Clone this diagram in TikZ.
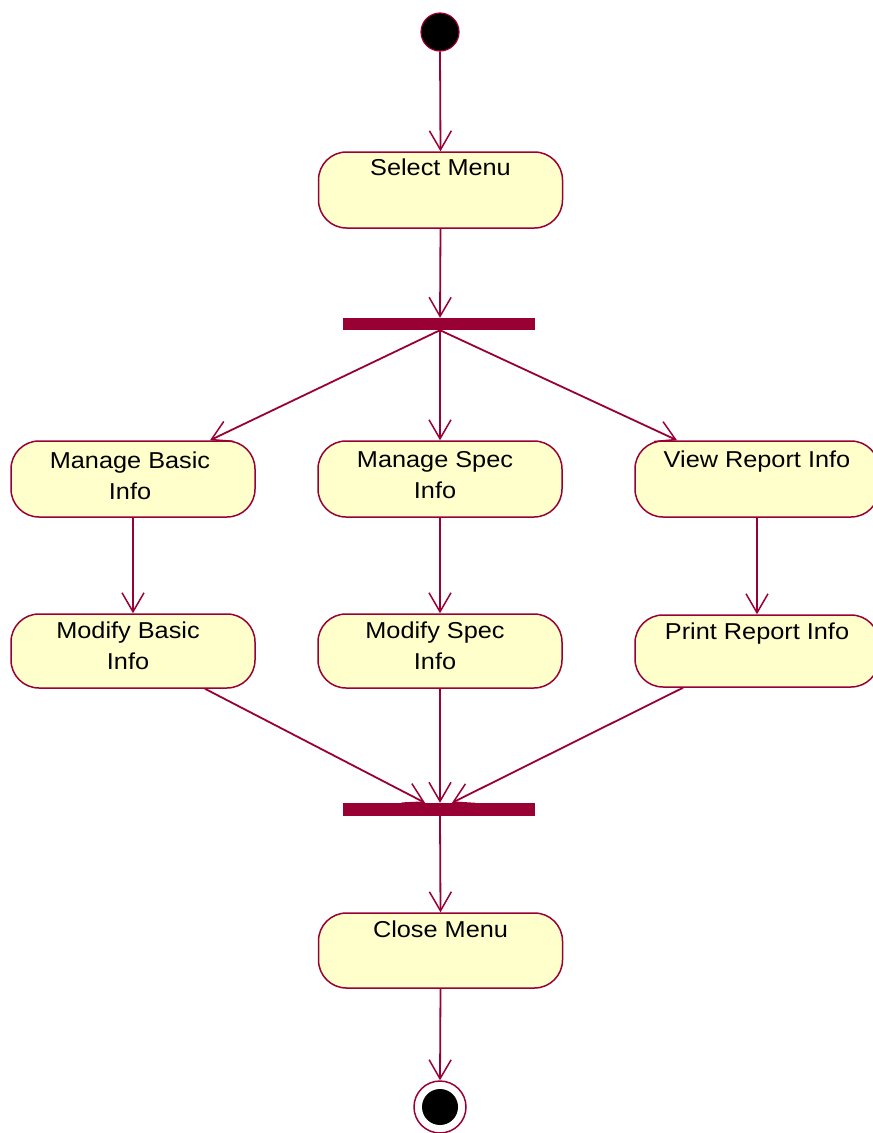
\documentclass[tikz,border=0pt]{standalone}
\usepackage{fontspec}
\setmainfont{Liberation Sans}[FakeStretch=1.1]
\usetikzlibrary{arrows.meta,calc}
\definecolor{umlline}{HTML}{990033}
\definecolor{umlfill}{HTML}{FFFFCC}
\tikzset{
  act/.style={draw=umlline, fill=umlfill, line width=1.5pt, rounded corners=28pt,
    minimum width=244pt, minimum height=76pt, inner sep=0pt},
  acttext/.style={anchor=north, font=\fontsize{23}{31}\selectfont, align=center, inner sep=0pt, text=black},
  bar/.style={fill=umlline, draw=none, minimum width=192pt, minimum height=12pt, inner sep=0pt},
  flow/.style={draw=umlline, line width=1.8pt, -{Straight Barb[length=19pt,width=22pt,line width=1.5pt]}},
  startdot/.style={circle, fill=black, draw=umlline, line width=1.2pt, minimum size=38pt, inner sep=0pt},
  endring/.style={circle, fill=white, draw=umlline, line width=1.5pt, minimum size=52pt, inner sep=0pt},
  enddot/.style={circle, fill=black, draw=none, minimum size=36pt, inner sep=0pt}
}
\begin{document}
\begin{tikzpicture}[x=1pt,y=-1pt]
\useasboundingbox (0,0) rectangle (873,1133);
% nodes
\node[startdot] (start) at (440,32) {};
\node[act] (sel) at (440.5,190) {};
\node[acttext] (selt) at ($(sel.north)+(0,7)$) {Select Menu};
\node[bar] (fork) at (439,324) {};
\node[act] (mbi) at (133,479) {};
\node[acttext] (mbit) at ($(mbi.north)+(-3,11)$) {Manage Basic\\Info};
\node[act] (msi) at (440,479) {};
\node[acttext] (msit) at ($(msi.north)+(-5,11)$) {Manage Spec\\Info};
\node[act] (vri) at (757,479) {};
\node[acttext] (vrit) at ($(vri.north)+(0,10)$) {View Report Info};
\node[act, minimum height=74pt] (mdb) at (133,651) {};
\node[acttext] (mdbt) at ($(mdb.north)+(-5,8)$) {Modify Basic\\Info};
\node[act, minimum height=74pt] (mds) at (440,651) {};
\node[acttext] (mdst) at ($(mds.north)+(-5,8)$) {Modify Spec\\Info};
\node[act, minimum height=72pt] (pri) at (757,651) {};
\node[acttext] (prit) at ($(pri.north)+(0,8)$) {Print Report Info};
\node[bar, minimum height=13pt] (join) at (439,809.5) {};
\node[act, minimum height=75pt] (cls) at (440.5,950.5) {};
\node[acttext] (clst) at ($(cls.north)+(0,8)$) {Close Menu};
\node[endring] (fin) at (440,1107) {};
\node[enddot] (findot) at (fin.center) {};
% connectors
\draw[flow] (start.south) -- (sel.north);
\draw[flow] (sel.south) -- ($(fork.north)+(1,0)$);
\draw[flow] ($(fork.south)+(1,0)$) -- ($(mbi.north)+(77,0)$);
\draw[flow] ($(fork.south)+(1,0)$) -- (msi.north);
\draw[flow] ($(fork.south)+(1,0)$) -- ($(vri.north)+(-80,0)$);
\draw[flow] (mbi.south) -- (mdb.north);
\draw[flow] (msi.south) -- (mds.north);
\draw[flow] (vri.south) -- (pri.north);
\draw[flow] ($(mdb.south)+(72,0)$) -- ($(join.north)+(-14,0)$);
\draw[flow] (mds.south) -- ($(join.north)+(1,0)$);
\draw[flow] ($(pri.south)+(-74,0)$) -- ($(join.north)+(13,0)$);
\draw[flow] ($(join.south)+(1,0)$) -- (cls.north);
\draw[flow] (cls.south) -- (fin.north);
\end{tikzpicture}
\end{document}
